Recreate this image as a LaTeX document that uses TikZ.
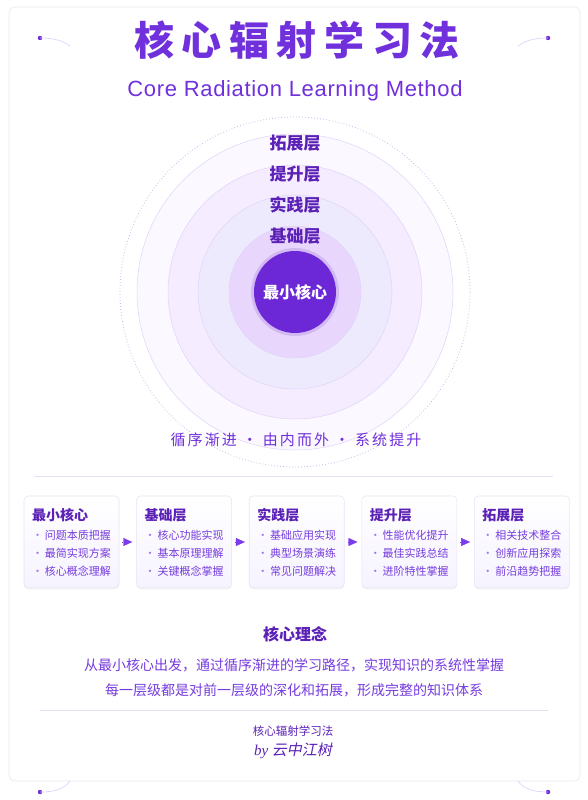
\documentclass[tikz,border=0pt]{standalone}
\usepackage{fontspec}
\usepackage{xcolor}
\usepackage{tikz}
\usetikzlibrary{arrows.meta, positioning, shadows}
\setmainfont{Noto Sans CJK SC}
\newfontfamily\titlefont[LetterSpace=19]{Noto Sans CJK SC}
\newfontfamily\mottofont[LetterSpace=14]{Noto Sans CJK SC}
\newfontfamily\latinfont[LetterSpace=3]{Liberation Sans}
\newfontfamily\byfont{Liberation Serif}
\newfontfamily\slantfont[FakeSlant=0.2]{Noto Sans CJK SC}
\definecolor{mypurple}{RGB}{112,48,220}
\definecolor{mydeep}{RGB}{91,33,182}
\definecolor{myviolet}{RGB}{118,60,222}
\definecolor{mycore}{RGB}{108,40,215}
\definecolor{myarrow}{RGB}{124,58,237}
\definecolor{hdrouter}{RGB}{252,248,255}
\definecolor{hdrup}{RGB}{245,236,255}
\definecolor{hdrprac}{RGB}{238,234,254}
\definecolor{hdrbase}{RGB}{233,214,253}
\definecolor{ringline}{RGB}{222,212,250}
\definecolor{dotline}{RGB}{200,186,240}
\definecolor{mygrid}{RGB}{228,224,244}
\definecolor{cardline}{RGB}{232,228,246}
\definecolor{cardfill}{RGB}{246,243,255}
\definecolor{frameline}{RGB}{232,232,240}
\newcommand{\cardhead}[1]{{\fontsize{14}{18}\selectfont\bfseries\color{mydeep}#1}}
\newcommand{\dotitem}[1]{{\color{myarrow!70}•}\,#1}
\tikzset{
  ring/.style={circle, draw=ringline, line width=0.5pt, inner sep=0pt},
  layerlabel/.style={font=\fontsize{17}{17}\selectfont\bfseries, text=mydeep, inner sep=0pt},
  card/.style={rectangle, draw=cardline, top color=white, bottom color=cardfill,
    rounded corners=4pt, line width=0.6pt, minimum width=95pt, minimum height=92pt,
    align=left, text=myviolet, font=\fontsize{11}{18}\selectfont,
    drop shadow={opacity=0.07, shadow xshift=0pt, shadow yshift=-1.5pt}},
  flow/.style={-{Triangle[length=9pt,width=8pt]}, color=myarrow, line width=0.4pt,
    shorten <=3pt, shorten >=4pt},
  sepline/.style={color=mygrid, line width=0.6pt},
  deco/.style={color=ringline, line width=0.7pt},
  body/.style={font=\fontsize{14}{14}\selectfont, text=myviolet}
}

\begin{document}
\begin{tikzpicture}[x=1pt, y=-1pt]
  \useasboundingbox (0,0) rectangle (587,800);
  \draw[frameline, fill=white, rounded corners=6pt, line width=0.6pt] (9,7) rectangle (580,781);

  % corner ornaments
  \fill[mycore] (40,38) circle (2.2pt);
  \draw[deco] (40,38) .. controls (55,38) and (63,41) .. (70,46);
  \fill[mycore] (548,38) circle (2.2pt);
  \draw[deco] (548,38) .. controls (533,38) and (525,41) .. (518,46);
  \fill[mycore] (40,792) circle (2.2pt);
  \draw[deco] (40,792) .. controls (55,792) and (64,789) .. (70,781);
  \fill[mycore] (548,792) circle (2.2pt);
  \draw[deco] (548,792) .. controls (533,792) and (524,789) .. (518,781);

  % heading
  \node[text=mypurple, font=\titlefont\fontsize{40}{40}\selectfont\bfseries] (title) at (297,40) {核心辐射学习法};
  \node[text=mypurple, font=\latinfont\fontsize{22}{22}\selectfont] (subtitle) at (295,91) {Core Radiation Learning Method};

  % rings
  \node[ring, draw=dotline, dash pattern=on 0.8pt off 2.2pt, line width=0.8pt, minimum size=350pt] (dotring) at (295,292) {};
  \node[ring, fill=hdrouter, minimum size=316pt] (extring) at (295,292) {};
  \node[ring, fill=hdrup, minimum size=254pt] (upring) at (295,292) {};
  \node[ring, fill=hdrprac, minimum size=194pt] (pracring) at (295,292) {};
  \node[ring, fill=hdrbase, minimum size=132pt] (basering) at (295,292) {};
  \node[circle, fill=mycore!45, opacity=0.5, minimum size=88pt] (halo) at (295,292) {};
  \node[circle, fill=mycore, inner sep=0pt, minimum size=82pt, text=white,
    font=\fontsize{16}{16}\selectfont\bfseries] (core) at (295,292) {最小核心};

  \node[layerlabel] (extlabel) at (295,143) {拓展层};
  \node[layerlabel] (uplabel) at (295,174) {提升层};
  \node[layerlabel] (praclabel) at (295,205) {实践层};
  \node[layerlabel] (baselabel) at (295,236) {基础层};

  \node[text=mypurple, font=\mottofont\fontsize{15}{15}\selectfont] (motto) at (296,440) {循序渐进 · 由内而外 · 系统提升};
  \draw[sepline] (34,476) -- (553,476);

  % path cards
  \node[card] (ccore) at (71.5,542) {\cardhead{最小核心}\\[1pt] \dotitem{问题本质把握}\\ \dotitem{最简实现方案}\\ \dotitem{核心概念理解}};
  \node[card, right=17pt of ccore] (cbase) {\cardhead{基础层}\\[1pt] \dotitem{核心功能实现}\\ \dotitem{基本原理理解}\\ \dotitem{关键概念掌握}};
  \node[card, right=17pt of cbase] (cprac) {\cardhead{实践层}\\[1pt] \dotitem{基础应用实现}\\ \dotitem{典型场景演练}\\ \dotitem{常见问题解决}};
  \node[card, right=17pt of cprac] (cup) {\cardhead{提升层}\\[1pt] \dotitem{性能优化提升}\\ \dotitem{最佳实践总结}\\ \dotitem{进阶特性掌握}};
  \node[card, right=17pt of cup] (cext) {\cardhead{拓展层}\\[1pt] \dotitem{相关技术整合}\\ \dotitem{创新应用探索}\\ \dotitem{前沿趋势把握}};

  \draw[flow] (ccore) -- (cbase);
  \draw[flow] (cbase) -- (cprac);
  \draw[flow] (cprac) -- (cup);
  \draw[flow] (cup) -- (cext);

  % idea
  \node[text=mydeep, font=\fontsize{16}{16}\selectfont\bfseries] (idea) at (295,634) {核心理念};
  \node[body] (ideaA) at (294,665) {从最小核心出发，通过循序渐进的学习路径，实现知识的系统性掌握};
  \node[body] (ideaB) at (294,690) {每一层级都是对前一层级的深化和拓展，形成完整的知识体系};
  \draw[sepline] (40,710) -- (548,710);
  \node[text=mydeep, font=\fontsize{11.5}{12}\selectfont] (foottitle) at (293,731) {核心辐射学习法};
  \node[text=mydeep, font=\fontsize{15}{15}\selectfont] (author) at (293,751) {\byfont\itshape by \slantfont 云中江树};
\end{tikzpicture}
\end{document}
